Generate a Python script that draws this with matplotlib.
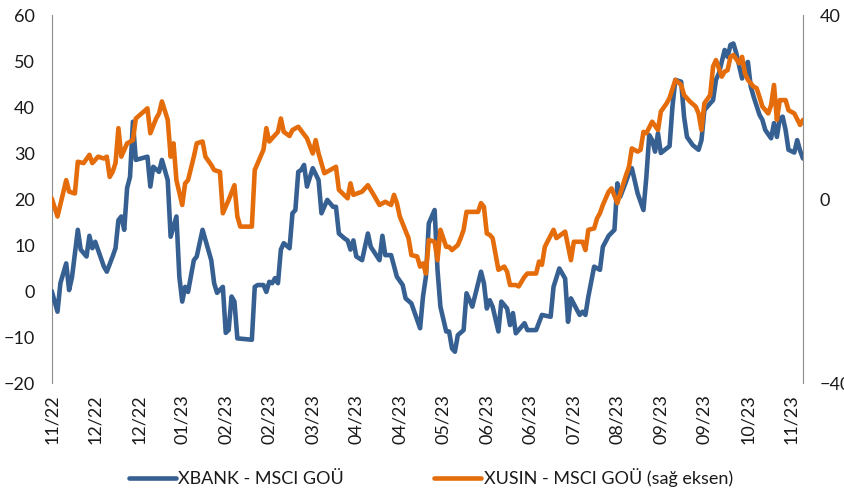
import matplotlib
matplotlib.use("Agg")
import matplotlib.pyplot as plt
import numpy as np

plt.rcParams['font.family'] = ['Lato', 'DejaVu Sans']

# trading-day index and values, XBANK - MSCI GOÜ (left axis)
xbank_day = [0, 2, 3, 5, 6, 7, 9, 10, 12, 13, 14, 15, 18, 19, 21, 22, 23, 24, 25, 26, 27, 28, 29,
             33, 34, 35, 37, 38, 40, 41, 42, 43, 44, 45, 46, 47, 49, 50, 52, 55, 56, 57, 59, 60,
             61, 62, 63, 64, 69, 70, 71, 73, 74, 75, 76, 77, 78, 79, 80, 82, 83, 84, 85, 86, 87,
             88, 90, 92, 93, 95, 97, 98, 99, 101, 102, 103, 104, 105, 107, 109, 110, 113, 114,
             115, 117, 119, 121, 122, 124, 127, 128, 129, 130, 132, 133, 134, 136, 137, 138, 139,
             140, 142, 143, 145, 148, 149, 150, 151, 152, 154, 155, 157, 158, 159, 160, 163, 164,
             167, 169, 172, 173, 175, 177, 178, 179, 182, 183, 184, 185, 187, 189, 190, 192, 194,
             195, 196, 198, 199, 200, 202, 204, 205, 206, 207, 208, 209, 210, 213, 214, 215, 217,
             218, 219, 221, 223, 224, 225, 227, 228, 229, 230, 232, 233, 234, 235, 236, 238, 239,
             240, 241, 242, 244, 245, 246, 248, 249, 250, 251, 252, 253, 254, 256, 257, 258, 259]
xbank_val = [0, -4.5, 1.7, 6, 0.2, 3, 13.3, 9, 7.5, 12, 9.3, 10.7, 5.3, 4.2, 7.5, 9.3, 15.4, 16.2,
             13.3, 22.4, 24.8, 36.8, 28.5, 29.2, 22.7, 27, 25.9, 28.5, 24.1, 11.8, 14, 16.2, 3.1,
             -2.3, 0.9, -0.2, 6.7, 7.5, 13.3, 6.7, 1.7, -0.4, 0.9, -9.1, -8.5, -1.2, -2.3, -10.3,
             -10.6, 0.9, 1.3, 1.3, -0.2, 2, 1.7, 2.8, 1.7, 9, 10.4, 9.3, 16.9, 17.6, 25.9, 26.3,
             27.4, 22.7, 26.7, 24.1, 16.9, 19.8, 18.3, 18.3, 12.5, 11.4, 11, 9, 11, 7.5, 6.7, 12.5,
             9.6, 6.7, 12, 7.8, 7.8, 3.1, 1.3, -1.6, -2.7, -8.1, -1.2, 3.1, 14.7, 17.6, 4.6, -3.4,
             -8.8, -8.8, -12.5, -13.2, -9.6, -8.5, -0.5, -3.4, 4.2, 1.7, -3.8, -2, -3.4, -8.8,
             -2.3, -3.8, -7.4, -4.8, -9.2, -7, -8.5, -8.5, -5.2, -5.6, 0.9, 4.9, 2.7, -6.7, -1.6,
             -5.2, -4.5, -5.2, -1.2, 5.3, 4.6, 9.6, 12, 13.3, 23.4, 20.5, 23.8, 25.6, 26.7, 21.2,
             17.6, 24.8, 33.9, 32.8, 30.3, 34.3, 30, 31.5, 40.1, 45.9, 45.5, 37.9, 33.5, 31.7,
             30.7, 32.8, 39.3, 40.8, 41.5, 45.9, 47.3, 52.4, 50.9, 53.5, 53.8, 51.7, 46.2, 48.8,
             49.8, 44.4, 42.2, 38.3, 37.2, 35, 33.2, 36.5, 33.5, 37.5, 37.9, 35, 30.7, 30.1, 32.8,
             30.5, 28.8]

# XUSIN - MSCI GOÜ (right axis)
xusin_day = [0, 2, 5, 6, 8, 9, 11, 13, 14, 16, 18, 19, 20, 21, 22, 23, 24, 26, 28, 29, 33, 34, 36,
             37, 38, 40, 41, 42, 43, 45, 46, 47, 49, 50, 52, 53, 55, 56, 58, 59, 61, 63, 64, 65,
             69, 70, 72, 73, 74, 75, 78, 79, 80, 82, 83, 85, 88, 90, 91, 92, 94, 98, 99, 102, 103,
             104, 107, 109, 111, 113, 115, 117, 118, 119, 120, 123, 124, 126, 127, 128, 129, 130,
             132, 133, 134, 136, 137, 138, 140, 141, 142, 143, 147, 148, 149, 150, 151, 152, 154,
             156, 157, 158, 160, 161, 163, 164, 167, 168, 169, 170, 173, 174, 177, 179, 180, 183,
             184, 185, 187, 188, 189, 190, 192, 193, 195, 196, 198, 199, 200, 202, 203, 204, 205,
             207, 209, 210, 212, 213, 215, 217, 218, 220, 222, 223, 224, 225, 227, 228, 229, 231,
             232, 233, 234, 235, 237, 238, 239, 240, 242, 243, 244, 245, 247, 248, 249, 250, 251,
             253, 254, 256, 258, 259]
xusin_val = [0.15, -3.8, 4.1, 1.6, 1.2, 8.1, 7.8, 9.6, 7.8, 9.2, 8.8, 9.2, 4.8, 5.9, 7.8, 15.4,
             9.2, 12.1, 12.8, 17.5, 19.7, 14.3, 17.5, 18.6, 21.2, 17.2, 9.2, 12.1, 4.1, -1.3, 3.4,
             4.1, 9.2, 12.1, 12.5, 9.2, 7.4, 6.3, 5.9, -3.1, -0.2, 3, -3.8, -6, -6, 6.3, 9.2, 10.7,
             15.4, 12.5, 14.6, 17.5, 14.6, 13.7, 15, 15.7, 13.2, 9.9, 12.8, 9.9, 5.6, 7, 2, 0.15,
             3.4, 0.9, 1.6, 3, 0.9, -1.3, -0.6, -1.3, 0.9, -0.9, -3.8, -8.5, -12.2, -12.5, -14.7,
             -14, -16.2, -8.9, -9.3, -13.3, -6.7, -10.4, -10.4, -11.1, -10, -8.5, -6.7, -2.8,
             -2.8, -0.9, -1.7, -7.5, -7.8, -8.5, -15.4, -14.7, -15.8, -18.7, -18.7, -19, -16.9,
             -16.2, -16.2, -13.6, -14.3, -10.4, -6.7, -8.5, -7.1, -13.3, -9.3, -9.3, -11.1, -6.7,
             -6.4, -4.2, -3.1, -1.3, 1.6, 2.3, -0.9, 1.2, 5.2, 7, 11, 10.3, 10.7, 14.6, 14.3, 16.8,
             15, 19, 20.8, 22, 25.9, 24.8, 22.6, 21.2, 20.1, 18.6, 15, 20.8, 22.6, 28.8, 30.2,
             26.6, 27.7, 28, 30.9, 31.3, 29.5, 30.9, 27.3, 25.9, 24.4, 24.1, 22.2, 20.1, 18.6,
             20.4, 24.8, 17.2, 21.5, 21.5, 19.3, 18.6, 16.1, 17.2]

tick_days = list(range(0, 256, 15))
tick_labels = ['11/22', '12/22', '12/22', '01/23', '02/23', '02/23', '03/23', '04/23', '04/23',
               '05/23', '06/23', '06/23', '07/23', '08/23', '09/23', '09/23', '10/23', '11/23']

left_ticks = [-20, -10, 0, 10, 20, 30, 40, 50, 60]
right_ticks = [-40, 0, 40]

BLUE = '#376092'
ORANGE = '#E46C0A'
GRID = '#8c8c8c'
TXT = '#1a1a1a'

fig = plt.figure(figsize=(8.45, 4.94), dpi=100)
ax = fig.add_axes([51.7 / 845, 1 - 383 / 494, (803 - 51.7) / 845, (383 - 15) / 494])
ax2 = ax.twinx()

l1, = ax.plot(xbank_day, xbank_val, color=BLUE, lw=3.3, solid_joinstyle='round',
              solid_capstyle='round', zorder=3)
l2, = ax2.plot(xusin_day, xusin_val, color=ORANGE, lw=3.3, solid_joinstyle='round',
               solid_capstyle='round', zorder=4)

ax.set_xlim(0, 259)
ax.set_ylim(-20, 60)
ax2.set_ylim(-40, 40)
ax.set_yticks(left_ticks)
ax2.set_yticks(right_ticks)
ax.set_xticks(tick_days)
ax.set_xticklabels(tick_labels, rotation=90, fontsize=13, color=TXT)

for a in (ax, ax2):
    for s in ('top', 'bottom'):
        a.spines[s].set_visible(False)
    a.tick_params(axis='y', length=0, labelsize=13, labelcolor=TXT)
ax.spines['left'].set_color(GRID)
ax.spines['right'].set_visible(False)
ax2.spines['left'].set_visible(False)
ax2.spines['right'].set_color(GRID)
ax.tick_params(axis='x', length=0, pad=8)
ax.tick_params(axis='y', pad=12)
ax2.tick_params(axis='y', pad=12)

ax2.set_zorder(ax.get_zorder() + 1)
ax2.patch.set_visible(False)

fig.legend([l1, l2], ['XBANK - MSCI GOÜ', 'XUSIN - MSCI GOÜ (sağ eksen)'],
           loc='center', bbox_to_anchor=(0.51, 1 - 478 / 494), ncol=2, frameon=False,
           fontsize=13, handlelength=2.6, columnspacing=5.0, handletextpad=0.15,
           labelcolor=TXT)

fig.savefig('out.png', dpi=100)
